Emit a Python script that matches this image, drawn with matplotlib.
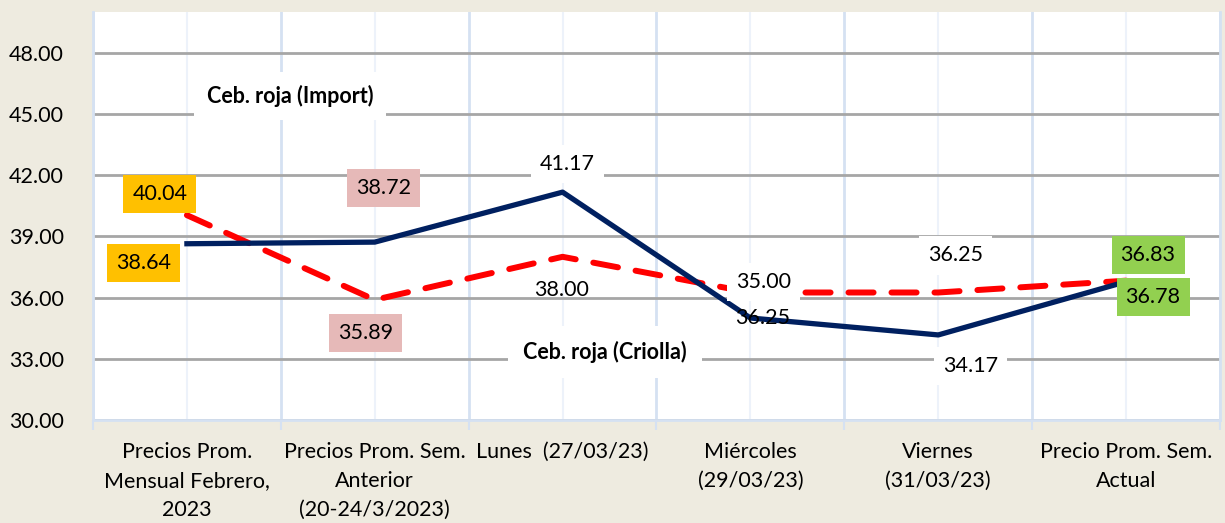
import matplotlib.pyplot as plt
import numpy as np

# datos del grafico
categorias = ["Precios Prom.\nMensual Febrero,\n2023",
              "Precios Prom. Sem.\nAnterior\n(20-24/3/2023)",
              "Lunes  (27/03/23)",
              "Miércoles\n(29/03/23)",
              "Viernes\n(31/03/23)",
              "Precio Prom. Sem.\nActual"]
serie_azul = [38.64, 38.72, 41.17, 35.00, 34.17, 36.78]
serie_roja = [40.04, 35.89, 38.00, 36.25, 36.25, 36.83]
yticks = [30, 33, 36, 39, 42, 45, 48]

plt.rcParams['font.family'] = ['Lato', 'DejaVu Sans']
fondo = "#EEEBE0"
fs = 15.5

fig = plt.figure(figsize=(12.25, 5.23), dpi=100, facecolor=fondo)
ax = fig.add_axes([93/1225, 1-420/523, 1127/1225, 408/523])
ax.set_facecolor("white")

x = np.arange(len(categorias))
ax.plot(x, serie_roja, color="#FF0000", lw=4.3, dashes=(4.2, 3.0),
        solid_capstyle="round", dash_capstyle="round", zorder=3)
ax.plot(x, serie_azul, color="#002060", lw=3.8, zorder=4)

ax.set_xlim(-0.5, 5.5)
ax.set_ylim(30, 50)
ax.set_yticks(yticks)
ax.set_yticklabels([f"{v:.2f}" for v in yticks], fontsize=fs)
ax.set_xticks(x)
ax.set_xticklabels(categorias, fontsize=fs, linespacing=1.55)
ax.set_xticks(np.arange(-0.5, 6, 1), minor=True)
ax.tick_params(axis="x", which="major", length=0, pad=16)
ax.tick_params(axis="x", which="minor", length=7, width=1.5, color="#D5E1F2")
ax.tick_params(axis="y", length=0, pad=21)

ax.grid(axis="y", color="#A6A6A6", lw=2)
ax.grid(axis="x", which="major", color="#EDF2FA", lw=1.5)
ax.grid(axis="x", which="minor", color="#D5E1F2", lw=2)
ax.set_axisbelow(True)
ax.spines["top"].set_visible(False)
for lado in ["left", "bottom", "right"]:
    ax.spines[lado].set_color("#D5E1F2")
    ax.spines[lado].set_linewidth(2)

# etiquetas de datos (serie, indice, desplazamiento en pixeles, color de fondo)
etiquetas = [
    (serie_roja, 0, (-27, 21), "#FFC000"),
    (serie_azul, 0, (-43, -19), "#FFC000"),
    (serie_azul, 1, (9, 54), "#E6B9B8"),
    (serie_roja, 1, (-9, -33), "#E6B9B8"),
    (serie_azul, 2, (5, 28), "white"),
    (serie_roja, 2, (-1, -33), None),
    (serie_azul, 3, (13, 36), "white"),
    (serie_roja, 3, (12, -26), None),
    (serie_roja, 4, (17, 37), "white"),
    (serie_azul, 4, (32, -31), "white"),
    (serie_roja, 5, (22, 26), "#92D050"),
    (serie_azul, 5, (27, -15), "#92D050"),
]
for serie, i, off, col in etiquetas:
    caja = None
    if col is not None:
        caja = dict(boxstyle="square,pad=0.42", fc=col, ec="none")
    ax.annotate(f"{serie[i]:.2f}", (x[i], serie[i]), xytext=off,
                textcoords="offset pixels", ha="center", va="center",
                fontsize=fs, bbox=caja, zorder=5)

ax.text(0.175, 0.794, "Ceb. roja (Import)", transform=ax.transAxes,
        ha="center", va="center", fontsize=fs, fontweight="bold",
        bbox=dict(boxstyle="square,pad=0.6", fc="white", ec="none"), zorder=5)
ax.text(0.454, 0.167, "Ceb. roja (Criolla)", transform=ax.transAxes,
        ha="center", va="center", fontsize=fs, fontweight="bold",
        bbox=dict(boxstyle="square,pad=0.7", fc="white", ec="none"), zorder=5)

fig.savefig("out.png", dpi=100, facecolor=fondo)
